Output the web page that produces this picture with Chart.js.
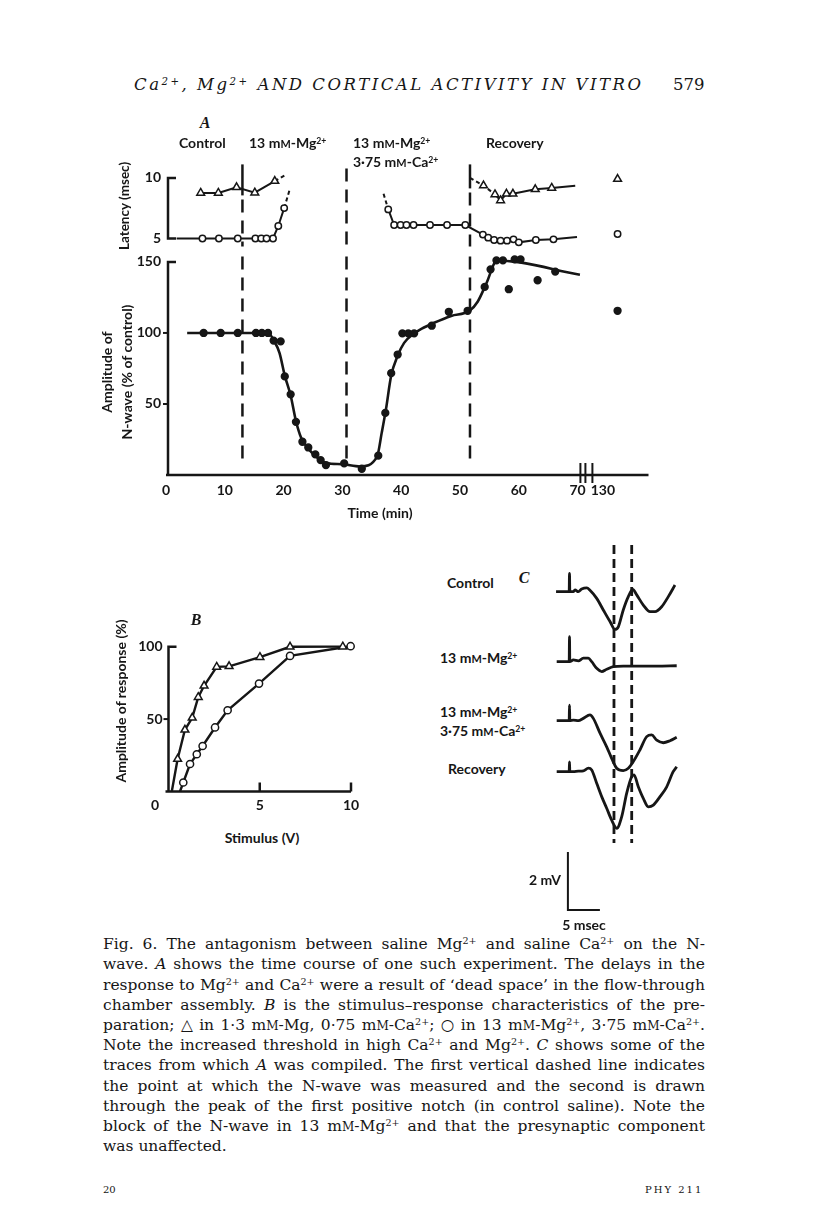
<!DOCTYPE html>
<html>
<head>
<meta charset="utf-8">
<script src="https://cdn.jsdelivr.net/npm/chart.js@4.4.0/dist/chart.umd.min.js"></script>
<style>
  body { margin: 0; background: #fff; }
  #page { position: relative; width: 816px; height: 1229px; background: #fff; overflow: hidden; color: #161616; }
  canvas { position: absolute; }
  .lb { position: absolute; font-family: Lato, "Open Sans", sans-serif; font-weight: 700; font-size: 14px; white-space: nowrap; line-height: 1; }
  .l { transform: translateY(-50%); }
  .c { transform: translate(-50%, -50%); }
  .r { transform: translate(-100%, -50%); }
  .v { transform: translate(-50%, -50%) rotate(-90deg); }
  .pl { font-family: "Liberation Serif", serif; font-style: italic; font-weight: 700; font-size: 16px; }
  sup { font-size: 0.62em; vertical-align: 0.5em; line-height: 0; }
  .sc { font-size: 0.78em; }
  .txt { position: absolute; font-family: "DejaVu Serif", serif; font-size: 15.5px; white-space: nowrap; line-height: 1; transform-origin: left center; }
</style>
</head>
<body>
<div id="page">
  <div class="txt fit" data-mode="letter" data-w="507" style="left:134px;top:77px;font-style:italic;font-size:16.5px;">Ca<sup>2+</sup>, Mg<sup>2+</sup> AND CORTICAL ACTIVITY IN VITRO</div>
  <div class="txt" style="left:673px;top:77px;font-size:16.5px;">579</div>

  <canvas id="latChart" width="560" height="110" style="left:100px;top:150px"></canvas>
  <canvas id="ampChart" width="560" height="290" style="left:100px;top:240px"></canvas>
  <canvas id="stimChart" width="270" height="200" style="left:100px;top:625px"></canvas>
  <canvas id="traceChart" width="150" height="380" style="left:540px;top:540px"></canvas>

  <!-- panel A -->
  <div class="lb c pl" style="left:205px;top:123px;">A</div>
  <div class="lb l" style="left:179px;top:143px;">Control</div>
  <div class="lb l" style="left:249px;top:143px;">13 m<span class="sc">M</span>-Mg<sup>2+</sup></div>
  <div class="lb l" style="left:353px;top:143px;">13 m<span class="sc">M</span>-Mg<sup>2+</sup></div>
  <div class="lb l" style="left:353px;top:162px;">3·75 m<span class="sc">M</span>-Ca<sup>2+</sup></div>
  <div class="lb l" style="left:486px;top:143px;">Recovery</div>
  <div class="lb v" style="left:125px;top:206px;font-size:13.5px;">Latency (msec)</div>
  <div class="lb v" style="left:107px;top:372px;">Amplitude of</div>
  <div class="lb v" style="left:127px;top:372px;">N-wave (% of control)</div>
  <div class="lb c" style="left:380px;top:513px;">Time (min)</div>

  <!-- panel B -->
  <div class="lb c pl" style="left:196px;top:620px;">B</div>
  <div class="lb v" style="left:121px;top:701px;">Amplitude of response (%)</div>
  <div class="lb c" style="left:155px;top:805px;">0</div>
  <div class="lb c" style="left:262px;top:838px;">Stimulus (V)</div>

  <!-- panel C -->
  <div class="lb c pl" style="left:524px;top:578px;">C</div>
  <div class="lb l" style="left:447px;top:583px;">Control</div>
  <div class="lb l" style="left:440px;top:658px;">13 m<span class="sc">M</span>-Mg<sup>2+</sup></div>
  <div class="lb l" style="left:440px;top:712px;">13 m<span class="sc">M</span>-Mg<sup>2+</sup></div>
  <div class="lb l" style="left:440px;top:731px;">3·75 m<span class="sc">M</span>-Ca<sup>2+</sup></div>
  <div class="lb l" style="left:448px;top:769px;">Recovery</div>
  <div class="lb r" style="left:561px;top:880px;">2 mV</div>
  <div class="lb c" style="left:584px;top:925px;">5 msec</div>

  <!-- legend text -->
  <div class="txt fit" data-w="602" style="left:103px;top:937px;">Fig. 6. The antagonism between saline Mg<sup>2+</sup> and saline Ca<sup>2+</sup> on the N-</div>
  <div class="txt fit" data-w="602" style="left:103px;top:957px;">wave. <i>A</i> shows the time course of one such experiment. The delays in the</div>
  <div class="txt fit" data-w="602" style="left:103px;top:978px;">response to Mg<sup>2+</sup> and Ca<sup>2+</sup> were a result of ‘dead space’ in the flow-through</div>
  <div class="txt fit" data-w="602" style="left:103px;top:998px;">chamber assembly. <i>B</i> is the stimulus–response characteristics of the pre-</div>
  <div class="txt fit" data-w="602" style="left:103px;top:1018px;">paration; △ in 1·3 m<span class="sc">M</span>-Mg, 0·75 m<span class="sc">M</span>-Ca<sup>2+</sup>; ○ in 13 m<span class="sc">M</span>-Mg<sup>2+</sup>, 3·75 m<span class="sc">M</span>-Ca<sup>2+</sup>.</div>
  <div class="txt fit" data-w="602" style="left:103px;top:1038px;">Note the increased threshold in high Ca<sup>2+</sup> and Mg<sup>2+</sup>. <i>C</i> shows some of the</div>
  <div class="txt fit" data-w="602" style="left:103px;top:1058px;">traces from which <i>A</i> was compiled. The first vertical dashed line indicates</div>
  <div class="txt fit" data-w="602" style="left:103px;top:1079px;">the point at which the N-wave was measured and the second is drawn</div>
  <div class="txt fit" data-w="602" style="left:103px;top:1099px;">through the peak of the first positive notch (in control saline). Note the</div>
  <div class="txt fit" data-w="602" style="left:103px;top:1119px;">block of the N-wave in 13 m<span class="sc">M</span>-Mg<sup>2+</sup> and that the presynaptic component</div>
  <div class="txt" style="left:103px;top:1139px;">was unaffected.</div>

  <div class="txt" style="left:103px;top:1185px;font-size:10px;">20</div>
  <div class="txt" style="left:645px;top:1185px;font-size:10px;letter-spacing:2px;">PHY 211</div>
</div>

<script>
const ink = '#161616';

// ---------- Panel A: time (min), axis broken between 70 and 130 min
const timeTicks = [0, 10, 20, 30, 40, 50, 60, 70, 130];
const breakShift = 55.7;                 // 130 min drawn where 74.3 would be
const plotT = t => (t > 100 ? t - breakShift : t);
const changeTimes = [13.0, 30.7, 51.7];  // solution changes

// latency (msec), open triangles
const latTriEarlyTime = [5.9, 8.9, 12.0, 15.1, 18.5];
const latTriEarly = [8.76, 8.76, 9.23, 8.78, 9.74];
const latTriLateTime = [54.0, 55.95, 56.9, 57.9, 59.0, 62.8, 65.6];
const latTriLate = [9.37, 8.64, 8.14, 8.69, 8.69, 9.06, 9.17];
// latency (msec), open circles
const latCircEarlyTime = [6.2, 9.0, 12.2, 15.2, 16.2, 17.1, 18.2, 19.1, 20.1];
const latCircEarly = [5, 5, 5, 5, 5, 5, 5, 6.03, 7.51];
const latCircLateTime = [37.8, 38.8, 39.9, 40.9, 42.1, 44.9, 47.8, 50.9, 53.9, 54.8, 55.8, 56.9, 58.0, 59.1, 60.0, 62.9, 65.9];
const latCircLate = [7.40, 6.11, 6.11, 6.11, 6.11, 6.11, 6.11, 6.11, 5.32, 5.07, 4.87, 4.82, 4.82, 4.93, 4.68, 4.87, 4.93];
// single reading at 130+ min
const lateTime = 132.5;
const lateTri = 9.91;
const lateCirc = 5.37;
// ends of the drawn lines (dashed where extrapolated)
const triEarlyTail = { x: 20.3, y: 10.24 };
const triLateHead = { x: 51.7, y: 10.0 };
const triLateTail = { x: 69.6, y: 9.35 };
const circEarlyHead = { x: 1.8, y: 5 };
const circEarlyTail = { x: 21.0, y: 8.98 };
const circLateHead = { x: 37.0, y: 8.69 };
const circLateTail = { x: 69.9, y: 5.12 };

// amplitude of N-wave (% of control)
const ampTime = [6.4, 9.3, 12.2, 15.3, 16.3, 17.35, 18.3, 19.5, 20.2, 21.2, 22.1, 23.2, 24.2, 25.4, 26.3, 27.2,
                 30.3, 33.3, 36.1, 37.3, 38.3, 39.4, 40.2, 41.2, 42.2, 45.2, 48.1, 51.3, 54.2, 55.2, 56.2, 57.3,
                 58.3, 59.3, 60.3, 63.2, 66.2, 132.5];
const ampValue = [100, 100, 100, 100, 100, 100, 94.6, 94.1, 69.4, 56.8, 37.4, 23.4, 19.4, 14.5, 10.5, 7.0,
                  8.2, 4.4, 13.6, 43.7, 71.7, 84.8, 99.7, 99.7, 99.7, 105.1, 114.9, 115.6, 132.4, 144.8, 151.1, 151.1,
                  130.8, 151.8, 151.8, 137.1, 143.2, 115.6];
// hand-drawn curve through the amplitude points
const ampFitTime = [3.6, 17.4, 18.3, 19.3, 20.2, 21.2, 22.1, 23.0, 24.3, 25.8, 27.3, 30.0, 33.0, 35.9,
                    36.7, 37.4, 38.3, 39.4, 40.5, 42.0, 43.5, 45.5, 48.5, 51.6, 53.0, 54.5, 56.3, 70.4];
const ampFitValue = [100, 100, 95, 86, 70, 56, 38, 26, 18, 12, 8.5, 7.6, 6, 13,
                     30, 46, 70, 84, 93, 99, 103, 107, 112, 115.5, 122, 135, 151, 141];

// ---------- Panel B: stimulus-response
const stimTri = [0.50, 0.90, 1.30, 1.63, 1.95, 2.64, 3.32, 5.01, 6.66, 9.55];
const respTri = [22.4, 42.6, 50.9, 65.1, 73, 86, 86.4, 92.7, 99.9, 100];
const stimCirc = [0.81, 1.18, 1.55, 1.87, 2.55, 3.24, 4.96, 6.66, 9.98];
const respCirc = [6.2, 19, 25.7, 31.4, 44.2, 56.1, 74.5, 93.6, 100.3];
const triThreshold = 0.18;   // where the lines leave the axis (V)
const circThreshold = 0.63;

// ---------- Panel C: traces, time (msec) after stimulus, potential (mV)
const traceNames = ['Control', '13 mM-Mg2+', '13 mM-Mg2+ 3.75 mM-Ca2+', 'Recovery'];
const traceTime = [
  [-2.1, -0.05, 0, 0.05, 0.6, 0.86, 1.38, 1.9, 2.7, 3.2, 4.25, 5.28, 6.33, 7.1, 7.63, 8.4, 9.19, 9.88, 10.5, 11.53, 12.58, 13.36, 14.4, 15.44, 16.48],
  [-2, -0.05, 0, 0.05, 0.6, 1.38, 2.16, 2.94, 3.47, 4.25, 5.03, 5.81, 6.84, 8.4, 11.0, 13.6, 16.75],
  [-2, -0.05, 0, 0.05, 0.6, 1.38, 2.16, 3.2, 3.72, 4.77, 5.81, 6.59, 7.38, 8.4, 9.19, 9.97, 11.0, 12.06, 12.84, 13.63, 14.66, 15.7, 16.75],
  [-2, -0.05, 0, 0.05, 0.6, 1.38, 2.16, 2.94, 3.47, 4.25, 5.03, 5.81, 6.59, 7.38, 8.16, 8.94, 9.72, 10.08, 10.75, 11.53, 12.31, 13.1, 14.14, 15.19, 16.2, 16.75]
];
const traceMv = [
  [0, 0, 0.63, 0, 0, 0.06, 0, 0.09, 0.13, 0.05, -0.23, -0.63, -1.03, -1.3, -1.21, -0.63, -0.17, 0.08, -0.11, -0.46, -0.69, -0.69, -0.52, -0.17, 0.23],
  [0, 0, 0.86, 0, 0.06, 0.03, 0.12, 0.12, 0, -0.23, -0.34, -0.26, -0.17, -0.15, -0.15, -0.15, -0.14],
  [0, 0, 0.54, 0, 0.02, 0, 0.08, 0.2, 0.08, -0.43, -0.9, -1.3, -1.64, -1.72, -1.64, -1.41, -1.01, -0.55, -0.49, -0.67, -0.76, -0.69, -0.57],
  [0, 0, 0.34, 0, 0, 0.02, 0.03, 0.12, 0.06, -0.4, -0.86, -1.26, -1.67, -1.95, -1.55, -0.74, -0.17, -0.11, -0.52, -0.92, -1.21, -1.15, -0.86, -0.52, 0, 0.17]
];
const measureTimes = [6.95, 9.72];   // N-wave measured / first positive notch
const barMs = 5, barMv = 2;

// layout of the trace rows (page y of each baseline) and trace panel
const traceRowPx = [591.7, 661.7, 720.7, 771.7];
const traceTopPx = 545, mvPx = 29;

Chart.defaults.font.family = 'Lato, "Open Sans", sans-serif';
Chart.defaults.font.weight = 'bold';
Chart.defaults.font.size = 14;
Chart.defaults.color = ink;
Chart.defaults.animation = false;
Chart.defaults.plugins.legend.display = false;
Chart.defaults.plugins.tooltip.enabled = false;

const tri = { style: 'triangle', r: 4.5, fill: '#fff' };
const circ = { style: 'circle', r: 3.2, fill: '#fff' };
const dot = { style: 'circle', r: 3.4, fill: ink };

const pts = (xs, ys, f = v => v) => xs.map((v, i) => ({ x: f(v), y: ys[i] }));

function series(points, marker, o = {}) {
  const data = points.slice();
  if (o.head) data.unshift(o.head);
  if (o.tail) data.push(o.tail);
  const last = data.length - 1;
  const headDash = o.headDash || 0;
  return {
    data,
    showLine: o.line !== false,
    borderColor: ink,
    borderWidth: o.width || 2,
    cubicInterpolationMode: o.smooth ? 'monotone' : 'default',
    pointStyle: marker.style,
    pointRadius: data.map((p, i) => ((o.head && i === 0) || (o.tail && i === last)) ? 0 : marker.r),
    pointBackgroundColor: marker.fill,
    pointBorderColor: ink,
    pointBorderWidth: 1.5,
    clip: false,
    segment: {
      borderDash: c => (c.p1DataIndex <= headDash || (o.tailDash && c.p1DataIndex === last)) ? [4, 3] : undefined
    }
  };
}

const noGrid = { display: false, drawTicks: false };
const noBorder = { display: false };

function line(ctx, pts, width, dash) {
  ctx.save();
  ctx.strokeStyle = ink;
  ctx.lineWidth = width;
  ctx.setLineDash(dash || []);
  ctx.beginPath();
  pts.forEach((p, i) => (i ? ctx.lineTo(p[0], p[1]) : ctx.moveTo(p[0], p[1])));
  ctx.stroke();
  ctx.restore();
}

// latency panel: bracket axis and tops of the solution-change lines
const latDecor = {
  id: 'latDecor',
  beforeDatasetsDraw(chart) {
    const { ctx, chartArea: a, scales: { x, y } } = chart;
    const ax = a.left + 2;
    line(ctx, [[ax + 8, y.getPixelForValue(10)], [ax, y.getPixelForValue(10)], [ax, y.getPixelForValue(5)], [ax + 8, y.getPixelForValue(5)]], 2.5);
    const solidPx = [31, 0, 24];
    changeTimes.forEach((t, i) => {
      const px = x.getPixelForValue(t);
      const top = a.top + 1;
      if (solidPx[i]) line(ctx, [[px, top], [px, top + solidPx[i]]], 2.5);
      line(ctx, [[px, top + solidPx[i] + 4], [px, a.bottom]], 2.5, [13, 8]);
    });
  }
};

// amplitude panel: axes, break in the time axis, dashed change lines
const ampDecor = {
  id: 'ampDecor',
  beforeDatasetsDraw(chart) {
    const { ctx, chartArea: a, scales: { x, y } } = chart;
    const ax = a.left + 2, y0 = y.getPixelForValue(0);
    line(ctx, [[ax + 8, y.getPixelForValue(150)], [ax, y.getPixelForValue(150)], [ax, y0]], 2.5);
    [50, 100].forEach(v => line(ctx, [[ax - 5, y.getPixelForValue(v)], [ax, y.getPixelForValue(v)]], 2));
    line(ctx, [[a.left, y0], [a.right, y0]], 2.5);
    const bx = x.getPixelForValue(71.5);
    [-6, -1, 6].forEach(d => line(ctx, [[bx + d, y0 - 12], [bx + d, y0 + 8]], 2));
    changeTimes.forEach(t => {
      const px = x.getPixelForValue(t);
      line(ctx, [[px, a.top + 3], [px, y0 - 12]], 2.5, [13, 8]);
    });
  }
};

const stimDecor = {
  id: 'stimDecor',
  beforeDatasetsDraw(chart) {
    const { ctx, chartArea: a, scales: { x, y } } = chart;
    const ax = a.left, y0 = y.getPixelForValue(0);
    line(ctx, [[ax + 8, y.getPixelForValue(100)], [ax, y.getPixelForValue(100)], [ax, y0]], 2.5);
    line(ctx, [[ax - 5, y.getPixelForValue(50)], [ax, y.getPixelForValue(50)]], 2);
    line(ctx, [[ax - 3, y0], [a.right, y0]], 2.5);
    [5, 10].forEach(v => line(ctx, [[x.getPixelForValue(v), y0], [x.getPixelForValue(v), y0 - 9]], 2.5));
  }
};

const traceDecor = {
  id: 'traceDecor',
  afterDatasetsDraw(chart) {
    const { ctx, chartArea: a, scales } = chart;
    const x = scales.x, yr = scales.y3;
    measureTimes.forEach(t => {
      const px = x.getPixelForValue(t);
      line(ctx, [[px, a.top], [px, a.top + 298]], 2.8, [9, 5]);
    });
    // calibration bar: 2 mV / 5 msec
    const bx = x.getPixelForValue(-0.25), by = a.bottom - 5;
    const h = yr.getPixelForValue(0) - yr.getPixelForValue(barMv);
    const w = x.getPixelForValue(-0.25 + barMs) - bx;
    line(ctx, [[bx, by - h], [bx, by], [bx + w, by]], 2);
  }
};

// ---- Panel A, latency
new Chart(document.getElementById('latChart'), {
  type: 'line',
  data: {
    datasets: [
      series(pts(latTriEarlyTime, latTriEarly, plotT), tri, { tail: triEarlyTail, tailDash: true }),
      series(pts(latTriLateTime, latTriLate, plotT), tri, { head: triLateHead, headDash: 2, tail: triLateTail }),
      series(pts(latCircEarlyTime, latCircEarly, plotT), circ, { head: circEarlyHead, tail: circEarlyTail, tailDash: true }),
      series(pts(latCircLateTime, latCircLate, plotT), circ, { head: circLateHead, headDash: 1, tail: circLateTail }),
      series(pts([lateTime], [lateTri], plotT), tri, { line: false }),
      series(pts([lateTime], [lateCirc], plotT), circ, { line: false })
    ]
  },
  options: {
    responsive: false,
    devicePixelRatio: 1,
    layout: { padding: { top: 9.2, bottom: 7.6, left: 0, right: 11.5 } },
    scales: {
      x: { type: 'linear', min: 0, max: 82.06, display: false },
      y: {
        min: 4.33, max: 11.2,
        afterFit: s => { s.width = 66; },
        afterBuildTicks: s => { s.ticks = [{ value: 5 }, { value: 10 }]; },
        ticks: { padding: 5 },
        grid: noGrid, border: noBorder
      }
    }
  },
  plugins: [latDecor]
});

// ---- Panel A, amplitude
new Chart(document.getElementById('ampChart'), {
  type: 'line',
  data: {
    datasets: [
      series(pts(ampFitTime, ampFitValue, plotT), { style: 'circle', r: 0, fill: ink }, { width: 2.6, smooth: true }),
      series(pts(ampTime, ampValue, plotT), dot, { line: false })
    ]
  },
  options: {
    responsive: false,
    devicePixelRatio: 1,
    layout: { padding: { top: 12.4, bottom: 0, left: 0, right: 11.5 } },
    scales: {
      x: {
        type: 'linear', min: 0, max: 82.06,
        afterBuildTicks: s => { s.ticks = timeTicks.map(t => ({ value: plotT(t) })); },
        afterFit: s => { s.height = 55; },
        ticks: { padding: 6.6, autoSkip: false, maxRotation: 0, callback: v => (v > 72 ? Math.round(v + breakShift) : v) },
        grid: noGrid, border: noBorder
      },
      y: {
        min: 0, max: 156,
        afterFit: s => { s.width = 66; },
        afterBuildTicks: s => { s.ticks = [{ value: 50 }, { value: 100 }, { value: 150 }]; },
        ticks: { padding: 5 },
        grid: noGrid, border: noBorder
      }
    }
  },
  plugins: [ampDecor]
});

// ---- Panel B
new Chart(document.getElementById('stimChart'), {
  type: 'line',
  data: {
    datasets: [
      series(pts(stimTri, respTri), tri, { head: { x: triThreshold, y: 0 }, width: 2.4 }),
      series(pts(stimCirc, respCirc), { style: 'circle', r: 3.6, fill: '#fff' }, { head: { x: circThreshold, y: 0 }, width: 2.4 })
    ]
  },
  options: {
    responsive: false,
    devicePixelRatio: 1,
    layout: { padding: { top: 10.9, bottom: 0, left: 0, right: 19 } },
    scales: {
      x: {
        type: 'linear', min: 0, max: 10,
        afterBuildTicks: s => { s.ticks = [{ value: 5 }, { value: 10 }]; },
        afterFit: s => { s.height = 33.5; },
        ticks: { padding: 5.1, autoSkip: false, maxRotation: 0 },
        grid: noGrid, border: noBorder
      },
      y: {
        min: 0, max: 105,
        afterFit: s => { s.width = 68.5; },
        afterBuildTicks: s => { s.ticks = [{ value: 50 }, { value: 100 }]; },
        ticks: { padding: 6 },
        grid: noGrid, border: noBorder
      }
    }
  },
  plugins: [stimDecor]
});

// ---- Panel C: one hidden y axis per trace row
const traceSpanMv = 370 / mvPx;
const traceScales = { x: { type: 'linear', min: -2.5, max: 17.5, display: false } };
traceRowPx.forEach((base, i) => {
  const max = (base - traceTopPx) / mvPx;
  traceScales['y' + i] = { display: false, min: max - traceSpanMv, max };
});

new Chart(document.getElementById('traceChart'), {
  type: 'line',
  data: {
    datasets: traceTime.map((ts, i) => ({
      label: traceNames[i],
      data: pts(ts, traceMv[i]),
      yAxisID: 'y' + i,
      borderColor: ink,
      borderWidth: 2.8,
      pointRadius: 0,
      cubicInterpolationMode: 'monotone',
      clip: false
    }))
  },
  options: {
    responsive: false,
    devicePixelRatio: 1,
    layout: { padding: { top: 5, bottom: 5, left: 13.5, right: 8.5 } },
    scales: traceScales
  },
  plugins: [traceDecor]
});

// justify the printed lines of text
document.querySelectorAll('.fit').forEach(el => {
  const target = +el.dataset.w;
  const w = el.getBoundingClientRect().width;
  if (el.dataset.mode === 'letter') {
    const n = el.textContent.length - 1;
    el.style.letterSpacing = ((target - w) / n) + 'px';
    return;
  }
  const gaps = (el.textContent.match(/ /g) || []).length;
  if (w > target) el.style.transform = 'scaleX(' + (target / w) + ')';
  else if (gaps) el.style.wordSpacing = ((target - w) / gaps) + 'px';
});
</script>
</body>
</html>
